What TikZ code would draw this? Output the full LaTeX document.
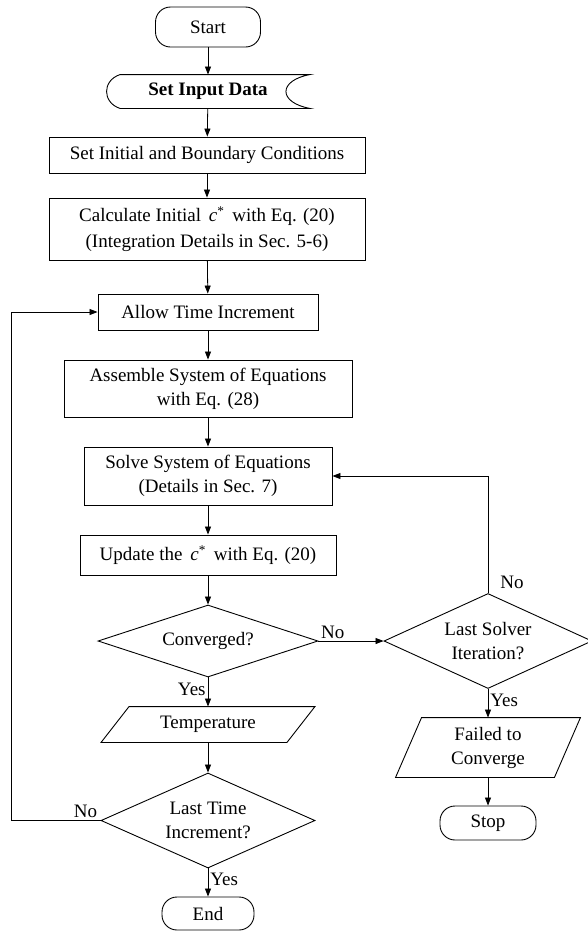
\documentclass[tikz,border=0pt]{standalone}
\usepackage{fontspec}
\setmainfont{Liberation Serif}
\usetikzlibrary{shapes.geometric,arrows.meta}
\begin{document}
\begin{tikzpicture}[x=1pt,y=-1pt,
  font=\fontsize{19}{24}\selectfont,
  line width=0.9pt,
  box/.style={draw, rectangle, inner sep=0pt, align=center},
  term/.style={draw, rectangle, rounded corners=15pt, inner sep=0pt},
  dec/.style={draw, diamond, aspect=2.2, inner sep=0pt, align=center},
  txt/.style={inner sep=0pt, align=center},
  arr/.style={-{Triangle[length=8pt,width=6pt]}, line width=0.8pt},
  lbl/.style={inner sep=2pt}]
\useasboundingbox (0,0) rectangle (587,938);

% main column
\node[term, minimum width=105pt, minimum height=40pt] (start) at (208,27) {Start};
\node[txt, minimum width=203pt, minimum height=33pt, font=\fontsize{19}{24}\selectfont\bfseries] (input) at (208,91.5) {Set Input Data};
\draw ([xshift=14pt]input.north west) -- (input.north east)
  .. controls +(-32,6) and +(-32,-6) .. (input.south east)
  -- ([xshift=14pt]input.south west)
  .. controls +(-18,-6) and +(-18,6) .. ([xshift=14pt]input.north west) -- cycle;
\node[box, minimum width=316pt, minimum height=36pt] (init) at (207,155) {Set Initial and Boundary Conditions};
\node[box, minimum width=316pt, minimum height=62pt, font=\fontsize{19}{26}\selectfont] (calc) at (207,229) {Calculate Initial \,\textit{c}\textsuperscript{*}\, with Eq. (20)\\(Integration Details in Sec. 5-6)};
\node[box, minimum width=220pt, minimum height=36pt] (allow) at (208,312) {Allow Time Increment};
\node[box, minimum width=288pt, minimum height=57pt] (asm) at (208,388.5) {Assemble System of Equations\\with Eq. (28)};
\node[box, minimum width=248pt, minimum height=58pt] (solve) at (208,476) {Solve System of Equations\\(Details in Sec. 7)};
\node[box, minimum width=256pt, minimum height=40pt] (upd) at (208,555) {Update the \,\textit{c}\textsuperscript{*}\, with Eq. (20)};
\node[dec, minimum width=220pt, minimum height=72pt] (conv) at (208,641) {Converged?};
\node[txt, minimum width=185pt, minimum height=35pt] (temp) at (208,724.5) {Temperature};
\draw ([xshift=14pt]temp.north west) -- ([xshift=14pt]temp.north east)
  -- ([xshift=-14pt]temp.south east) -- ([xshift=-14pt]temp.south west) -- cycle;
\node[dec, minimum width=214pt, minimum height=95pt] (last) at (208,820.5) {Last Time\\Increment?};
\node[term, minimum width=92pt, minimum height=33pt] (end) at (208,913.5) {End};

% right column
\node[dec, minimum width=208pt, minimum height=95pt] (solver) at (488,641) {Last Solver\\Iteration?};
\node[txt, minimum width=158pt, minimum height=59pt] (failed) at (488,747.5) {Failed to\\Converge};
\draw ([xshift=13pt]failed.north west) -- ([xshift=13pt]failed.north east)
  -- ([xshift=-13pt]failed.south east) -- ([xshift=-13pt]failed.south west) -- cycle;
\node[term, minimum width=96pt, minimum height=34pt] (stop) at (488,823) {Stop};

% connectors
\draw[arr] (start) -- (input);
\draw[arr] (input) -- (init);
\draw[arr] (init) -- (calc);
\draw[arr] (calc) -- (allow);
\draw[arr] (allow) -- (asm);
\draw[arr] (asm) -- (solve);
\draw[arr] (solve) -- (upd);
\draw[arr] (upd) -- (conv);
\draw[arr] (conv) -- node[lbl, left, pos=0.4] {Yes} (temp);
\draw[arr] (temp) -- (last);
\draw[arr] (last) -- node[lbl, right, pos=0.4] {Yes} (end);
\draw[arr] (conv.east) -- node[lbl, above, pos=0.22] {No} (solver.west);
\draw[arr] (solver.north) |- node[lbl, right, pos=0.045, xshift=10pt] {No} (solve.east);
\draw[arr] (solver) -- node[lbl, right, pos=0.4] {Yes} (failed);
\draw[arr] (failed) -- (stop);
\draw[arr] (last.west) -- node[lbl, above, pos=0.17] {No} ++(-89,0) |- (allow.west);
\end{tikzpicture}
\end{document}
